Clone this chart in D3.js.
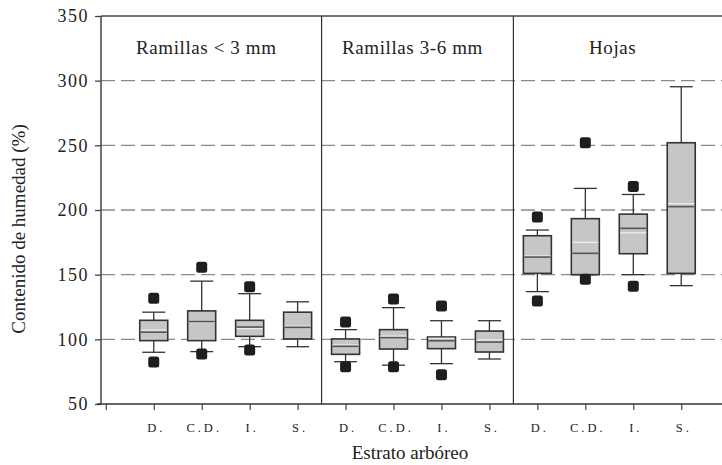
<!DOCTYPE html>
<html>
<head>
<meta charset="utf-8">
<script src="https://cdn.jsdelivr.net/npm/d3@7"></script>
<style>
  body { margin: 0; background: #fff; }
  svg text { font-family: "Times New Roman", "Liberation Serif", Times, "DejaVu Serif", serif; fill: #222; }
</style>
</head>
<body>
<svg id="chart" width="722" height="465"></svg>
<script>

// panels and strata
let panels = ["Ramillas < 3 mm", "Ramillas 3-6 mm", "Hojas"]
let strata = ["D.", "C.D.", "I.", "S."]
let yTicks = [50, 100, 150, 200, 250, 300, 350]
let gridValues = [100, 150, 200, 250, 300]

// box statistics, 12 boxes in order (panel x stratum)
let whiskerLow  = [90, 90.5, 94.3, 94.3,   82.7, 80, 81.2, 84.8,   136.9, 150, 150, 141.5]
let q1          = [99, 99, 102.3, 100.3,   88.4, 92.5, 92.8, 90.2,   151, 150, 166.2, 151]
let median      = [105.5, 113.7, 109.5, 109.3,   94.6, 101.3, 98.9, 97.9,   163.6, 166.5, 185.8, 202.6]
let mean        = [107.2, 113, 108.3, 110.2,   95.6, 102.5, 100.8, 99.5,   164.5, 175, 182.4, 204.9]
let q3          = [114.7, 122, 114.7, 121,   100.3, 107.5, 101.8, 106.4,   180.1, 193.3, 196.8, 252]
let whiskerHigh = [121, 145, 135.3, 129,   107.5, 124.5, 114.4, 114.4,   184.5, 216.7, 212, 295.3]
let outliers    = [[131.7, 82.5], [155.7, 88.7], [140.7, 91.8], [],
                   [113.4, 78.8], [131.2, 78.8], [125.8, 72.7], [],
                   [194.5, 129.6], [252, 146.4], [218.2, 141], []]

let width = 722,
    height = 465,
    margins = {left: 101, right: 0, top: 16, bottom: 61};

function make_scales() {
  return {
    x: d3.scaleLinear()
      .domain([-0.1, 12.85])
      .range([margins.left, width - margins.right]),
    y: d3.scaleLinear()
      .domain([50, 350])
      .range([height - margins.bottom, margins.top])
  }
}

function boxes_data() {
  let out = []
  for (let i = 0; i < 12; i++) {
    let p = Math.floor(i / 4), s = i % 4
    out.push({
      pos: p * 4 + s + 1,
      label: strata[s],
      lo: whiskerLow[i], q1: q1[i], med: median[i], mean: mean[i],
      q3: q3[i], hi: whiskerHigh[i], out: outliers[i]
    })
  }
  return out
}

function draw() {
  let scales = make_scales()
  let svg = d3.select("#chart")
  let x = scales.x, y = scales.y
  let x0 = x.range()[0], x1 = x.range()[1]

  // dashed grid
  svg.append("g")
    .selectAll("line")
    .data(gridValues).enter()
    .append("line")
    .attr("x1", x0).attr("x2", x1)
    .attr("y1", d => y(d)).attr("y2", d => y(d))
    .attr("stroke", "#8a8a8a")
    .attr("stroke-width", 1.3)
    .attr("stroke-dasharray", "14,6")

  // panel separators
  svg.append("g")
    .selectAll("line")
    .data([4.5, 8.5]).enter()
    .append("line")
    .attr("x1", d => x(d)).attr("x2", d => x(d))
    .attr("y1", y(350)).attr("y2", y(50))
    .attr("stroke", "#333").attr("stroke-width", 1.2)

  // frame: top and left
  svg.append("line")
    .attr("x1", x0).attr("x2", x1).attr("y1", y(350)).attr("y2", y(350))
    .attr("stroke", "#444").attr("stroke-width", 1.5)
  svg.append("line")
    .attr("x1", x0).attr("x2", x0).attr("y1", y(350)).attr("y2", y(50))
    .attr("stroke", "#444").attr("stroke-width", 1.5)

  // y axis
  let yAxis = svg.append("g")
    .attr("transform", `translate(${x0},0)`)
    .call(d3.axisLeft(y).tickValues(yTicks).tickSize(6).tickSizeOuter(0))
  yAxis.select(".domain").remove()
  yAxis.selectAll(".tick line").attr("stroke", "#444").attr("stroke-width", 1.3)
  yAxis.selectAll("text")
    .style("font-size", "18px")
    .attr("x", -12)
    .attr("letter-spacing", 1.5)

  // x axis
  let positions = d3.range(0, 13)
  let xAxis = svg.append("g")
    .attr("transform", `translate(0,${y(50)})`)
    .call(d3.axisBottom(x).tickValues(positions).tickSize(6).tickSizeOuter(0)
      .tickFormat(d => d == 0 ? "" : strata[(d - 1) % 4]))
  xAxis.select(".domain").attr("stroke", "#333").attr("stroke-width", 1.5)
    .attr("d", `M${x0 - 4},0H${x1}`)
  xAxis.selectAll(".tick line").attr("stroke", "#444").attr("stroke-width", 1.2)
  xAxis.selectAll("text")
    .style("font-size", "12.5px")
    .attr("letter-spacing", 3)
    .attr("dx", 2)
    .attr("y", 19)

  // panel titles
  let bounds = [x0, x(4.5), x(8.5), x1]
  svg.append("g")
    .selectAll("text")
    .data(panels).enter()
    .append("text")
    .attr("x", (d, i) => (bounds[i] + bounds[i + 1]) / 2 - 5)
    .attr("y", 54)
    .attr("text-anchor", "middle")
    .style("font-size", "19px")
    .attr("letter-spacing", 0.6)
    .text(d => d)

  // boxes
  let data = boxes_data()
  let bw = 28, cw = 23
  let g = svg.append("g")
    .selectAll("g")
    .data(data).enter()
    .append("g")
    .attr("transform", d => `translate(${x(d.pos)},0)`)

  g.append("line")
    .attr("x1", 0).attr("x2", 0)
    .attr("y1", d => y(d.hi)).attr("y2", d => y(d.lo))
    .attr("stroke", "#333").attr("stroke-width", 1.3)
  g.selectAll(".cap")
    .data(d => [d.lo, d.hi]).enter()
    .append("line")
    .attr("x1", -cw / 2).attr("x2", cw / 2)
    .attr("y1", v => y(v)).attr("y2", v => y(v))
    .attr("stroke", "#333").attr("stroke-width", 1.3)
  g.append("rect")
    .attr("x", -bw / 2).attr("width", bw)
    .attr("y", d => y(d.q3))
    .attr("height", d => y(d.q1) - y(d.q3))
    .attr("fill", "#c6c6c6")
    .attr("stroke", "#333").attr("stroke-width", 1.6)
  g.append("line")
    .attr("x1", -bw / 2 + 1).attr("x2", bw / 2 - 1)
    .attr("y1", d => y(d.mean)).attr("y2", d => y(d.mean))
    .attr("stroke", "#ececec").attr("stroke-width", 1.3)
  g.append("line")
    .attr("x1", -bw / 2 + 1).attr("x2", bw / 2 - 1)
    .attr("y1", d => y(d.med)).attr("y2", d => y(d.med))
    .attr("stroke", "#555").attr("stroke-width", 1.6)
  g.selectAll(".out")
    .data(d => d.out).enter()
    .append("rect")
    .attr("x", -5.5).attr("width", 11)
    .attr("y", v => y(v) - 5.5).attr("height", 11)
    .attr("rx", 2.5)
    .attr("fill", "#1e1e1e")

  // axis titles
  svg.append("text")
    .attr("transform", `translate(25,229) rotate(-90)`)
    .attr("text-anchor", "middle")
    .style("font-size", "19px")
    .text("Contenido de humedad (%)")
  svg.append("text")
    .attr("x", 410).attr("y", 459)
    .attr("text-anchor", "middle")
    .style("font-size", "19px")
    .text("Estrato arbóreo")
}

draw()
</script>
</body>
</html>
